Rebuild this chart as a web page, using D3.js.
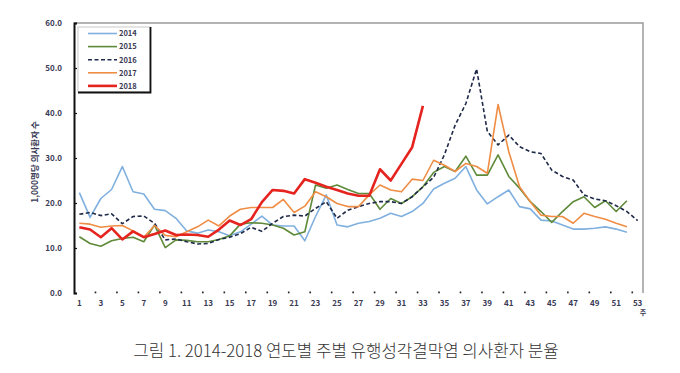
<html>
<head>
<meta charset="utf-8">
<script src="https://d3js.org/d3.v7.min.js"></script>
<style>
  body { margin: 0; background: #fff; }
  svg text { font-family: "Noto Sans CJK KR", "Noto Sans", sans-serif; }
  .tick-lab { font-size: 8px; font-weight: bold; fill: #3a3a55; }
</style>
</head>
<body>
<script>
// weeks 1..53
var weeks = d3.range(1, 54);
var xLabels = d3.range(1, 54, 2);
var yTicks = [0, 10, 20, 30, 40, 50, 60];
var years = ["2014", "2015", "2016", "2017", "2018"];

var v2014 = [22.3, 16.8, 21.0, 23.0, 28.1, 22.5, 22.0, 18.6, 18.3, 16.6, 13.8, 13.3, 14.0, 13.6, 12.7, 13.6, 15.3, 17.1,
  15.1, 14.9, 14.9, 11.6, 17.0, 21.8, 15.1, 14.7, 15.5, 15.9, 16.6, 17.7, 17.0, 18.1, 19.9, 23.1, 24.4, 25.5, 28.1,
  22.9, 19.8, 21.4, 22.9, 19.2, 18.7, 16.2, 16.0, 15.1, 14.2, 14.2, 14.4, 14.7, 14.2, 13.5];
var v2015 = [12.5, 11.0, 10.4, 11.6, 12.1, 12.4, 11.4, 15.1, 10.1, 11.8, 11.7, 11.4, 11.4, 11.9, 12.7, 15.3, 15.6, 15.5,
  15.1, 14.4, 12.9, 13.6, 24.0, 23.3, 24.0, 23.0, 22.1, 22.1, 18.6, 21.0, 19.9, 21.4, 23.6, 26.8, 28.1, 27.0, 30.4,
  26.2, 26.2, 30.7, 25.9, 23.3, 20.3, 18.1, 15.7, 18.1, 20.3, 21.4, 19.0, 20.5, 18.1, 20.5];
var v2016 = [17.5, 17.9, 17.2, 17.6, 15.4, 17.0, 17.1, 15.5, 11.8, 12.0, 11.4, 10.9, 11.0, 11.9, 12.4, 13.2, 14.6, 13.7,
  15.5, 17.0, 17.3, 17.1, 18.8, 20.3, 16.6, 18.4, 19.2, 19.9, 20.3, 20.3, 19.9, 21.4, 23.6, 25.7, 30.7, 37.3, 42.1,
  49.8, 35.9, 32.9, 35.1, 32.5, 31.4, 31.0, 27.3, 25.9, 25.1, 21.8, 20.9, 20.5, 19.4, 18.1, 16.1];
var v2017 = [15.5, 15.3, 14.6, 14.9, 15.0, 13.8, 12.4, 15.0, 12.8, 12.5, 13.6, 14.7, 16.2, 14.9, 17.1, 18.6, 19.0, 19.0,
  19.0, 20.8, 17.9, 19.3, 22.5, 21.4, 19.9, 19.2, 19.2, 21.8, 24.0, 22.9, 22.5, 25.3, 25.0, 29.5, 28.4, 27.0, 28.8,
  28.1, 26.6, 41.9, 31.4, 23.6, 20.3, 17.3, 17.0, 17.0, 15.5, 17.7, 17.0, 16.4, 15.5, 14.7];
var v2018 = [14.6, 14.1, 12.4, 14.4, 11.9, 13.7, 12.4, 13.1, 13.9, 12.9, 13.0, 12.9, 12.5, 14.1, 16.1, 15.1, 16.4, 20.2,
  22.9, 22.7, 22.1, 25.3, 24.5, 23.6, 22.9, 22.1, 21.6, 21.6, 27.5, 25.0, 28.7, 32.4, 41.6];

var series = [
  { name: years[0], values: v2014, color: "#7fb0df", width: 1.6, dash: null },
  { name: years[1], values: v2015, color: "#5e8a3a", width: 1.6, dash: null },
  { name: years[2], values: v2016, color: "#1f2a48", width: 1.6, dash: "4,2.5" },
  { name: years[3], values: v2017, color: "#ef8d45", width: 1.6, dash: null },
  { name: years[4], values: v2018, color: "#e5231f", width: 2.6, dash: null }
];

var W = 680, H = 373;
var plotL = 74, plotR = 643, plotT = 23, plotB = 293;

var svg = d3.select("body").append("svg")
  .attr("width", W).attr("height", H);

var x = d3.scalePoint().domain(weeks).range([plotL, plotR]).padding(0.5);
var y = d3.scaleLinear().domain([0, 60]).range([plotB, plotT]);
var step = x.step();

// frame: top and right in grey
svg.append("path")
  .attr("d", "M" + plotL + "," + plotT + "H" + plotR + "V" + plotB)
  .attr("fill", "none").attr("stroke", "#9a9a9a").attr("stroke-width", 1.5);

// y axis
var yAxis = svg.append("g")
  .attr("transform", "translate(" + plotL + ",0)")
  .call(d3.axisRight(y).tickValues(yTicks).tickSize(3).tickFormat(""));
yAxis.select(".domain").attr("stroke", "#111").attr("stroke-width", 2);
yAxis.selectAll(".tick line").attr("stroke", "#111").attr("stroke-width", 1.2);

svg.selectAll(".ylab").data(yTicks).enter().append("text")
  .attr("class", "tick-lab")
  .attr("x", 62).attr("y", function(d) { return y(d) + 3; })
  .attr("text-anchor", "end")
  .text(function(d) { return d.toFixed(1); });

// x ticks (small dots) and labels
svg.selectAll(".xdot").data(xLabels.slice(1)).enter().append("rect")
  .attr("x", function(d) { return x(d) - step / 2 - 0.8; })
  .attr("y", plotB - 1.5).attr("width", 1.6).attr("height", 1.8)
  .attr("fill", "#222");

svg.selectAll(".xlab").data(xLabels).enter().append("text")
  .attr("class", "tick-lab")
  .attr("x", function(d) { return x(d); })
  .attr("y", 306)
  .attr("text-anchor", "middle")
  .text(function(d) { return d; });

svg.append("text").attr("class", "tick-lab")
  .attr("x", plotR).attr("y", 315).attr("text-anchor", "middle")
  .style("font-size", "7px")
  .text("주");

// y axis title
svg.append("text").attr("class", "tick-lab")
  .attr("transform", "translate(38,162) rotate(-90)")
  .attr("text-anchor", "middle")
  .style("font-size", "8.5px")
  .text("1,000명당 의사환자 수");

// lines
var line = d3.line()
  .x(function(d, i) { return x(weeks[i]); })
  .y(function(d) { return y(d); });

svg.selectAll(".series").data(series).enter().append("path")
  .attr("d", function(s) { return line(s.values); })
  .attr("fill", "none")
  .attr("stroke", function(s) { return s.color; })
  .attr("stroke-width", function(s) { return s.width; })
  .attr("stroke-dasharray", function(s) { return s.dash; })
  .attr("stroke-linejoin", "round");

// legend
var lg = svg.append("g");
lg.append("rect").attr("x", 78).attr("y", 27).attr("width", 72).attr("height", 65)
  .attr("fill", "#fff").attr("stroke", "#bbb").attr("stroke-width", 0.8);
lg.append("path").attr("d", "M78,92.5H150.5V27")
  .attr("fill", "none").attr("stroke", "#111").attr("stroke-width", 1.8);

var item = lg.selectAll(".item").data(series).enter().append("g")
  .attr("transform", function(d, i) { return "translate(0," + (33.5 + i * 13.1) + ")"; });
item.append("line")
  .attr("x1", 88).attr("x2", 117)
  .attr("stroke", function(s) { return s.color; })
  .attr("stroke-width", function(s) { return s.width; })
  .attr("stroke-dasharray", function(s) { return s.dash; });
item.append("text").attr("class", "tick-lab")
  .attr("x", 119).attr("y", 2.8)
  .style("font-size", "7.5px")
  .text(function(s) { return s.name; });

// caption
svg.append("text")
  .attr("x", 346).attr("y", 357)
  .attr("text-anchor", "middle")
  .style("font-size", "16.8px")
  .style("font-weight", "300")
  .style("fill", "#333")
  .text("그림 1. 2014-2018 연도별 주별 유행성각결막염 의사환자 분율");
</script>
</body>
</html>
